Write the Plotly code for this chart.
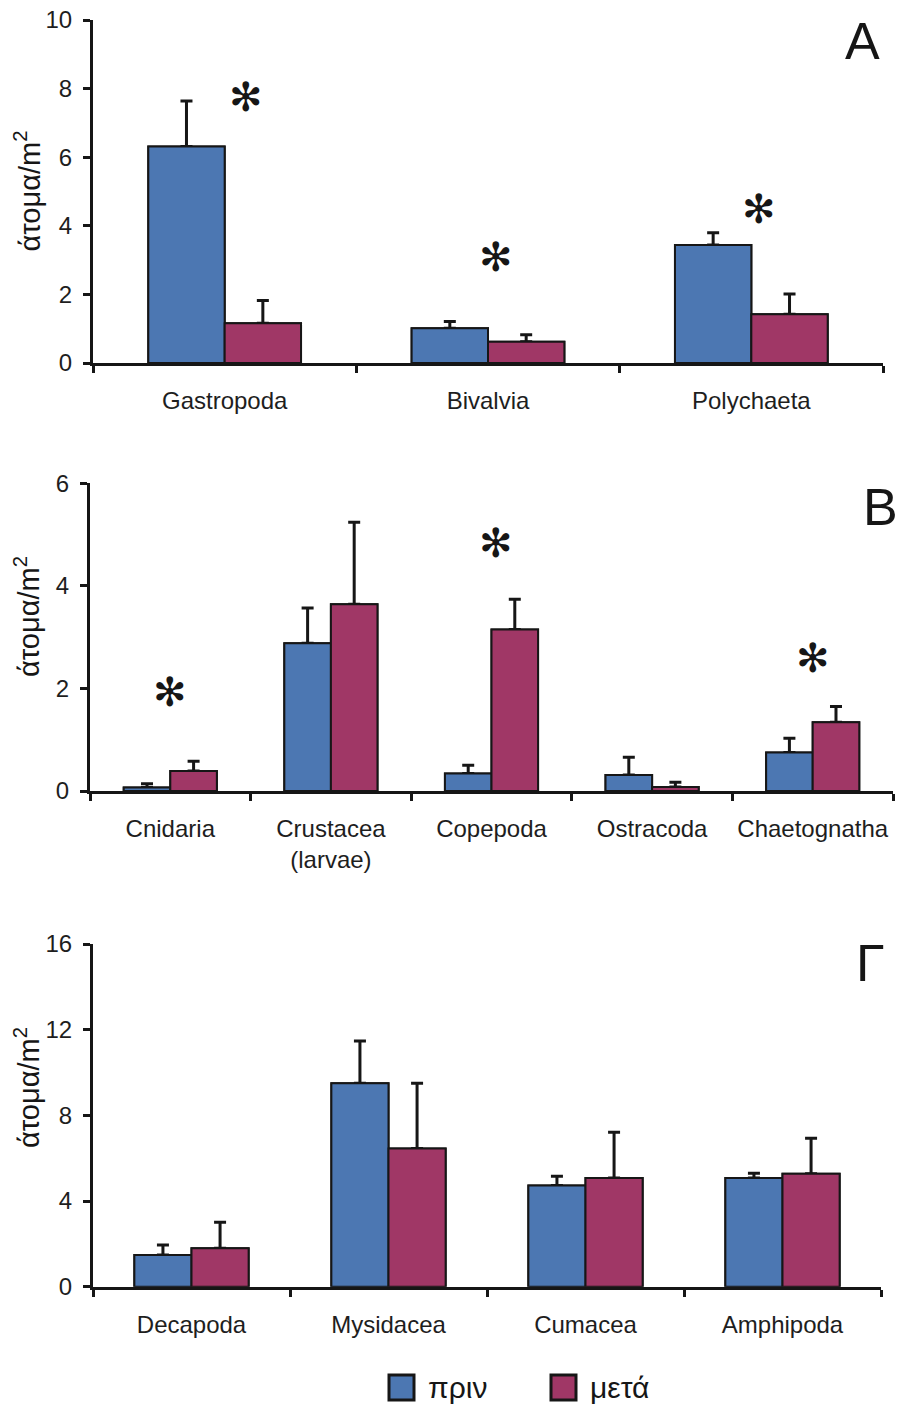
import plotly.graph_objects as go

W, H = 903, 1405

# ---- Panel A: benthic groups ----
cats_a = ["Gastropoda", "Bivalvia", "Polychaeta"]
before_a = [6.31, 1.01, 3.44]
before_err_a = [1.33, 0.20, 0.36]
after_a = [1.16, 0.62, 1.42]
after_err_a = [0.66, 0.20, 0.59]
star_cats_a = ["Gastropoda", "Bivalvia", "Polychaeta"]
star_y_a = [7.75, 3.09, 4.49]

# ---- Panel B: zooplankton groups ----
cats_b = ["Cnidaria", "Crustacea<br>(larvae)", "Copepoda", "Ostracoda", "Chaetognatha"]
before_b = [0.07, 2.88, 0.34, 0.31, 0.75]
before_err_b = [0.07, 0.69, 0.16, 0.35, 0.28]
after_b = [0.39, 3.64, 3.15, 0.08, 1.34]
after_err_b = [0.19, 1.60, 0.59, 0.09, 0.31]
star_cats_b = ["Cnidaria", "Copepoda", "Chaetognatha"]
star_y_b = [1.94, 4.83, 2.59]

# ---- Panel Γ: hyperbenthic crustaceans ----
cats_c = ["Decapoda", "Mysidacea", "Cumacea", "Amphipoda"]
before_c = [1.48, 9.50, 4.72, 5.07]
before_err_c = [0.47, 1.97, 0.44, 0.23]
after_c = [1.79, 6.45, 5.08, 5.27]
after_err_c = [1.22, 3.05, 2.13, 1.66]

series_names = ["πριν", "μετά"]
panel_letters = ["A", "B", "Γ"]
y_ranges = [[0, 10], [0, 6], [0, 16]]
y_dticks = [2, 2, 4]

BLUE = "#4C77B2"
RED = "#A03766"
INK = "#161616"
FONT = "Liberation Sans, Arial, sans-serif"

fig = go.Figure()

panels = [
    (cats_a, before_a, before_err_a, after_a, after_err_a, "x", "y"),
    (cats_b, before_b, before_err_b, after_b, after_err_b, "x2", "y2"),
    (cats_c, before_c, before_err_c, after_c, after_err_c, "x3", "y3"),
]

for cats, b, be, a, ae, xr, yr in panels:
    pairs = ((b, be, BLUE, series_names[0], "g0"), (a, ae, RED, series_names[1], "g1"))
    # bars carrying the upward error whiskers
    for vals, errs, color, name, grp in pairs:
        fig.add_trace(go.Bar(
            x=cats, y=vals, name=name, xaxis=xr, yaxis=yr, showlegend=False,
            offsetgroup=grp,
            marker=dict(color=color, line=dict(color=INK, width=2)),
            error_y=dict(type="data", symmetric=False, array=errs,
                         arrayminus=[0] * len(errs), color=INK,
                         thickness=3, width=6),
        ))
    # same bars again on top, so the whisker foot sits under the bar edge
    for vals, errs, color, name, grp in pairs:
        fig.add_trace(go.Bar(
            x=cats, y=vals, name=name, xaxis=xr, yaxis=yr, showlegend=False,
            offsetgroup=grp, hoverinfo="skip",
            marker=dict(color=color, line=dict(color=INK, width=2)),
        ))

# pixel layout of the three plotting areas (left, right, top, bottom)
boxes = [(93, 883, 20, 363), (90, 893, 483.3, 791), (93, 881, 944, 1286.7)]


def xdom(l, r):
    return [l / W, r / W]


def ydom(t, b):
    return [1 - b / H, 1 - t / H]


axis_common = dict(showline=True, linewidth=3, linecolor=INK, ticks="outside",
                   ticklen=7, tickwidth=3, tickcolor=INK, showgrid=False,
                   zeroline=False, fixedrange=True, automargin=False,
                   tickfont=dict(family=FONT, size=24, color="#1e1e1e"))

layout_axes = {}
for i, (l, r, t, b) in enumerate(boxes):
    sx = "" if i == 0 else str(i + 1)
    layout_axes["xaxis" + sx] = dict(axis_common, domain=xdom(l, r), type="category",
                                     tickson="boundaries", anchor="y" + sx,
                                     tickangle=0, ticklabelstandoff=14)
    layout_axes["yaxis" + sx] = dict(axis_common, domain=ydom(t, b), range=y_ranges[i],
                                     dtick=y_dticks[i], anchor="x" + sx,
                                     ticklabelstandoff=6)

annotations = []

# significance asterisks
for cats, ys, xr, yr, shifts in ((star_cats_a, star_y_a, "x", "y", [21, 8, 8]),
                                  (star_cats_b, star_y_b, "x2", "y2", [0, 4, 0])):
    for c, yv, sh in zip(cats, ys, shifts):
        annotations.append(dict(x=c, y=yv, xref=xr, yref=yr, text="✻", showarrow=False,
                                xshift=sh, font=dict(family="DejaVu Sans", size=40, color=INK),
                                xanchor="center", yanchor="middle"))

# panel letters
for letter, (px, py) in zip(panel_letters, [(862, 41), (880, 507), (870, 963)]):
    annotations.append(dict(x=px / W, y=1 - py / H, xref="paper", yref="paper",
                            text=letter, showarrow=False, xanchor="center", yanchor="middle",
                            font=dict(family=FONT, size=52, color=INK)))

# y-axis titles
for py in (191.5, 617, 1088):
    annotations.append(dict(x=27 / W, y=1 - py / H, xref="paper", yref="paper",
                            text="άτομα/m<sup>2</sup>", textangle=-90, showarrow=False,
                            xanchor="center", yanchor="middle",
                            font=dict(family=FONT, size=29, color=INK)))

# legend
shapes = []
for (x0, color, label) in ((389, BLUE, series_names[0]), (551, RED, series_names[1])):
    shapes.append(dict(type="rect", xref="paper", yref="paper",
                       x0=x0 / W, x1=(x0 + 25) / W, y0=1 - 1400 / H, y1=1 - 1375 / H,
                       fillcolor=color, line=dict(color=INK, width=3)))
    annotations.append(dict(x=(x0 + 37) / W, y=1 - 1387 / H, xref="paper", yref="paper",
                            text=label, showarrow=False, xanchor="left", yanchor="middle",
                            font=dict(family=FONT, size=30, color=INK)))

fig.update_layout(
    width=W, height=H, margin=dict(l=0, r=0, t=0, b=0, autoexpand=False),
    paper_bgcolor="white", plot_bgcolor="white",
    barmode="group", bargap=0.42, bargroupgap=0,
    annotations=annotations, shapes=shapes,
    font=dict(family=FONT, color=INK),
    **layout_axes,
)

fig.write_html("out.html")
